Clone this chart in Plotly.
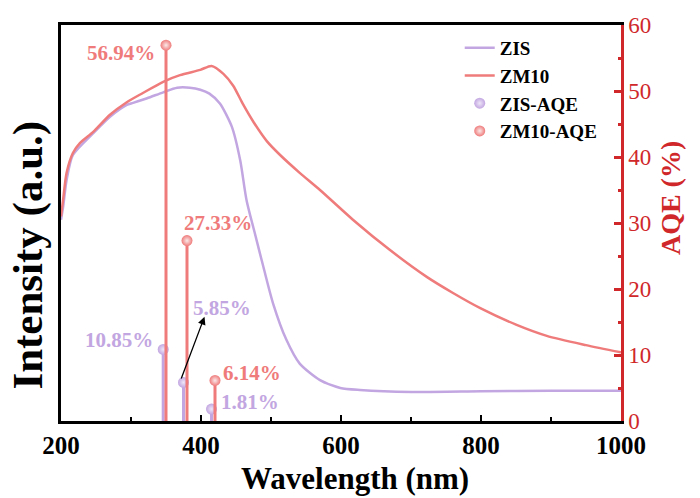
import plotly.graph_objects as go

# Spectra (intensity, a.u.)
zm10_wl = [200, 203, 208, 217, 227, 246, 270, 294, 317, 346, 370, 399, 415, 432, 446, 460, 475, 494,
           513, 541, 570, 617, 670, 723, 760, 799, 850, 894, 950, 1000]
zm10_int = [31.0, 33.5, 37.6, 40.6, 42.1, 43.8, 46.4, 48.3, 49.7, 51.4, 52.4, 53.2, 53.8, 52.6, 50.8, 48.0,
            45.3, 42.4, 40.3, 37.6, 35.0, 30.5, 25.9, 21.8, 19.4, 17.1, 14.6, 12.9, 11.5, 10.4]
zis_wl = [200, 203, 208, 217, 246, 270, 294, 303, 323, 346, 366, 384, 399, 412, 427, 444, 456, 465, 477,
          489, 503, 522, 541, 570, 599, 627, 700, 800, 900, 1000]
zis_int = [30.5, 32.4, 36.5, 40.3, 43.6, 46.1, 47.9, 48.2, 48.9, 49.8, 50.5, 50.5, 50.2, 49.6, 48.1, 44.6,
           39.5, 33.5, 28.4, 23.4, 17.8, 12.3, 8.7, 6.2, 5.0, 4.7, 4.4, 4.5, 4.6, 4.6]

# AQE (%)
zis_aqe_wl = [346, 375, 415]
zis_aqe = [10.85, 5.85, 1.81]
zm10_aqe_wl = [350, 380, 420]
zm10_aqe = [56.94, 27.33, 6.14]

# label positions (wavelength, AQE)
zis_lbl_pos = [(283, 12.3), (430, 17.1), (470, 2.9)]
zm10_lbl_pos = [(286, 55.8), (424, 30.0), (473, 7.3)]

PURPLE = "#c2a6e1"
SALMON = "#ef7b7b"
RED = "#d0282a"
FONT = "Liberation Serif"

fig = go.Figure()

fig.add_trace(go.Scatter(x=zis_wl, y=zis_int, mode="lines", name="<b>ZIS</b>",
                         line=dict(color=PURPLE, width=2.5, shape="spline", smoothing=0.7)))
fig.add_trace(go.Scatter(x=zm10_wl, y=zm10_int, mode="lines", name="<b>ZM10</b>",
                         line=dict(color=SALMON, width=2.5, shape="spline", smoothing=0.7)))


def stems(xs, ys):
    sx, sy = [], []
    for x, y in zip(xs, ys):
        sx += [x, x, None]
        sy += [0, y, None]
    return sx, sy


for xs, ys, col, nm in [(zis_aqe_wl, zis_aqe, PURPLE, "<b>ZIS-AQE</b>"),
                        (zm10_aqe_wl, zm10_aqe, SALMON, "<b>ZM10-AQE</b>")]:
    sx, sy = stems(xs, ys)
    fig.add_trace(go.Scatter(x=sx, y=sy, mode="lines", yaxis="y2", showlegend=False,
                             line=dict(color=col, width=3), hoverinfo="skip"))
    fig.add_trace(go.Scatter(x=xs, y=ys, mode="markers", yaxis="y2", name=nm,
                             marker=dict(color=col, size=11,
                                         gradient=dict(type="radial",
                                                       color="#fbe9e9" if col == SALMON else "#eee6f8"))))

for (x, y), v in zip(zis_lbl_pos, zis_aqe):
    fig.add_annotation(x=x, y=y, xref="x", yref="y2", text=f"<b>{v:.2f}%</b>", showarrow=False,
                       font=dict(family=FONT, size=21, color=PURPLE))
for (x, y), v in zip(zm10_lbl_pos, zm10_aqe):
    fig.add_annotation(x=x, y=y, xref="x", yref="y2", text=f"<b>{v:.2f}%</b>", showarrow=False,
                       font=dict(family=FONT, size=21, color=SALMON))

# arrow pointing from 5.85% marker to its label
fig.add_annotation(x=405, y=15.8, xref="x", yref="y2", ax=371, ay=6.2, axref="x", ayref="y2",
                   text="", showarrow=True, arrowhead=2, arrowsize=1.2, arrowwidth=1.3, arrowcolor="black")

# axis titles
fig.add_annotation(x=0.525, y=-0.144, xref="paper", yref="paper", xanchor="center", yanchor="middle",
                   text="<b>Wavelength (nm)</b>", showarrow=False,
                   font=dict(family=FONT, size=31, color="black"))
fig.add_annotation(x=-0.058, y=0.419, xref="paper", yref="paper", xanchor="center", yanchor="middle",
                   text="<b>Intensity (a.u.)</b>", showarrow=False, textangle=-90,
                   font=dict(family=FONT, size=43, color="black"))
fig.add_annotation(x=1.0875, y=0.563, xref="paper", yref="paper", xanchor="center", yanchor="middle",
                   text="<b>AQE (%)</b>", showarrow=False, textangle=-90,
                   font=dict(family=FONT, size=28, color=RED))

fig.update_layout(
    width=700, height=498,
    margin=dict(l=61, r=79, t=25, b=77),
    plot_bgcolor="white", paper_bgcolor="white",
    font=dict(family=FONT, color="black"),
    showlegend=True,
    legend=dict(x=0.712, y=0.99, xanchor="left", yanchor="top", bgcolor="rgba(0,0,0,0)",
                font=dict(family=FONT, size=19, color="black"), itemwidth=30, tracegroupgap=0),
    xaxis=dict(range=[200, 1000], showline=True, linecolor="black", linewidth=2.5, mirror=True,
               ticks="inside", ticklen=6, tickwidth=2, tickcolor="black", dtick=200, tick0=200,
               minor=dict(ticks="inside", ticklen=4, dtick=100, tickwidth=2, tickcolor="black"),
               showgrid=False, zeroline=False,
               tickfont=dict(family=FONT, size=25, color="black", weight="bold")),
    yaxis=dict(range=[0, 60], showline=True, linecolor="black", linewidth=2.5, ticks="",
               showticklabels=False, showgrid=False, zeroline=False),
    yaxis2=dict(range=[0, 60], overlaying="y", side="right", showline=True, linecolor=RED, linewidth=2.5,
                ticks="inside", ticklen=7, tickwidth=2.5, tickcolor=RED, dtick=10,
                minor=dict(ticks="inside", ticklen=3, dtick=5, tickwidth=2.5, tickcolor=RED),
                showgrid=False, zeroline=False,
                tickfont=dict(family=FONT, size=23, color=RED)),
)

fig.write_html("out.html")
